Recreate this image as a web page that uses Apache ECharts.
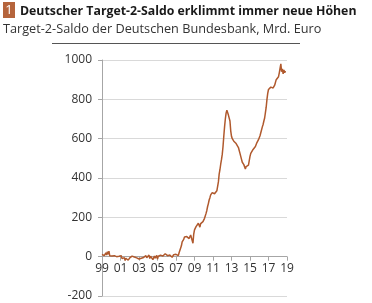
<!DOCTYPE html>
<html><head><meta charset="utf-8">
<script src="https://cdn.jsdelivr.net/npm/echarts@6/dist/echarts.min.js"></script>
<style>html,body{margin:0;padding:0;background:#fff}#c{width:372px;height:303px}</style>
</head><body><div id="c"></div>
<script>
var titleText = 'Deutscher Target-2-Saldo erklimmt immer neue Höhen';
var subtitleText = 'Target-2-Saldo der Deutschen Bundesbank, Mrd. Euro';
var startYear = 1999;
var xTickLabels = ['99','01','03','05','07','09','11','13','15','17','19'];
var yTicks = [-200, 0, 200, 400, 600, 800, 1000];
// monthly values, Jan 1999 onward (Mrd. Euro)
var v1999 = [12, 8, 15, 5, 10, 20, 8, 25, 12, 28, 5, 15];
var v2000 = [10, 3, 8, -5, 5, 12, -3, 0, 8, -8, 2, -6];
var v2001 = [-4, 5, -10, 0, -15, -5, -20, -8, -12, -3, -18, -10];
var v2002 = [-6, 0, -8, 3, -4, 5, -2, -10, 0, -6, 4, -3];
var v2003 = [-12, -5, -18, -8, 0, -10, -4, 2, -8, 5, -6, 0];
var v2004 = [-3, 8, -10, 2, -6, 5, -15, -5, 3, -8, 0, 6];
var v2005 = [-12, 2, 5, -4, 8, 0, 10, 3, 12, -2, 15, 5];
var v2006 = [20, 5, 10, -5, 8, 2, 15, -3, 5, 10, 2, 12];
var v2007 = [12, 8, 18, 5, 20, 22, 30, 55, 75, 85, 88, 100];
var v2008 = [105, 98, 102, 95, 100, 92, 96, 110, 105, 100, 68, 115];
var v2009 = [136, 145, 153, 160, 158, 170, 165, 150, 168, 175, 172, 178];
var v2010 = [185, 195, 205, 220, 235, 255, 270, 288, 300, 314, 320, 326];
var v2011 = [325, 330, 320, 314, 325, 335, 339, 380, 420, 442, 470, 493];
var v2012 = [520, 560, 612, 660, 700, 730, 745, 752, 720, 714, 690, 640];
var v2013 = [612, 600, 595, 587, 590, 578, 575, 570, 565, 555, 540, 525];
var v2014 = [510, 495, 480, 472, 468, 460, 446, 458, 468, 452, 465, 475];
var v2015 = [510, 525, 530, 535, 545, 553, 555, 560, 570, 580, 590, 595];
var v2016 = [604, 615, 630, 640, 660, 672, 690, 705, 732, 760, 800, 830];
var v2017 = [850, 858, 855, 862, 860, 865, 858, 868, 872, 880, 900, 910];
var v2018 = [905, 915, 935, 925, 980, 940, 955, 930, 950, 935, 944];
var values = [].concat(v1999, v2000, v2001, v2002, v2003, v2004, v2005, v2006, v2007,
  v2008, v2009, v2010, v2011, v2012, v2013, v2014, v2015, v2016, v2017, v2018);
var seriesData = values.map(function (v, i) { return [i / 12, v]; });

var lineColor = '#b0592d';
var font = 'Open Sans';
var chart = echarts.init(document.getElementById('c'), null, {renderer: 'canvas'});
chart.setOption({
  animation: false,
  grid: {left: 102, right: 85, top: 60, bottom: 7, containLabel: false, outerBoundsMode: 'none'},
  xAxis: {
    type: 'value', min: 0, max: 20, interval: 2,
    offset: -39.3,
    axisLine: {show: true, onZero: false, lineStyle: {color: '#a6a6a6', width: 1}},
    axisTick: {show: true, length: 4, lineStyle: {color: '#a6a6a6'}},
    axisLabel: {
      margin: 6, color: '#333', fontFamily: font, fontSize: 12,
      formatter: function (v) { return xTickLabels[Math.round(v / 2)]; }
    },
    splitLine: {show: false}
  },
  yAxis: {
    type: 'value', min: yTicks[0], max: yTicks[yTicks.length - 1], interval: 200,
    axisLine: {show: true, lineStyle: {color: '#a6a6a6', width: 1}},
    axisTick: {show: true, length: 4, lineStyle: {color: '#a6a6a6'}},
    axisLabel: {margin: 10, color: '#333', fontFamily: font, fontSize: 12,
      formatter: function (v) { return String(v); }},
    splitLine: {show: true, lineStyle: {color: '#d9d9d9', width: 1}}
  },
  series: [{
    type: 'line', data: seriesData, showSymbol: false, symbol: 'none',
    lineStyle: {color: lineColor, width: 1.5}, z: 5
  }],
  graphic: [
    {type: 'rect', shape: {x: 3, y: 2, width: 12, height: 16}, style: {fill: '#b5643c'}},
    {type: 'text', x: 9, y: 10.5, style: {text: '1', fill: '#fff', font: '13px "' + font + '"', textAlign: 'center', textVerticalAlign: 'middle'}},
    {type: 'text', x: 20, y: 11, style: {text: titleText, fill: '#1a1a1a', font: 'bold 12.3px "' + font + '"', textVerticalAlign: 'middle'}},
    {type: 'text', x: 3, y: 29, style: {text: subtitleText, fill: '#333', font: '12.7px "' + font + '"', textVerticalAlign: 'middle'}},
    {type: 'line', shape: {x1: 52, y1: 43.5, x2: 300, y2: 43.5}, style: {stroke: '#555', lineWidth: 1}}
  ]
});
</script></body></html>
